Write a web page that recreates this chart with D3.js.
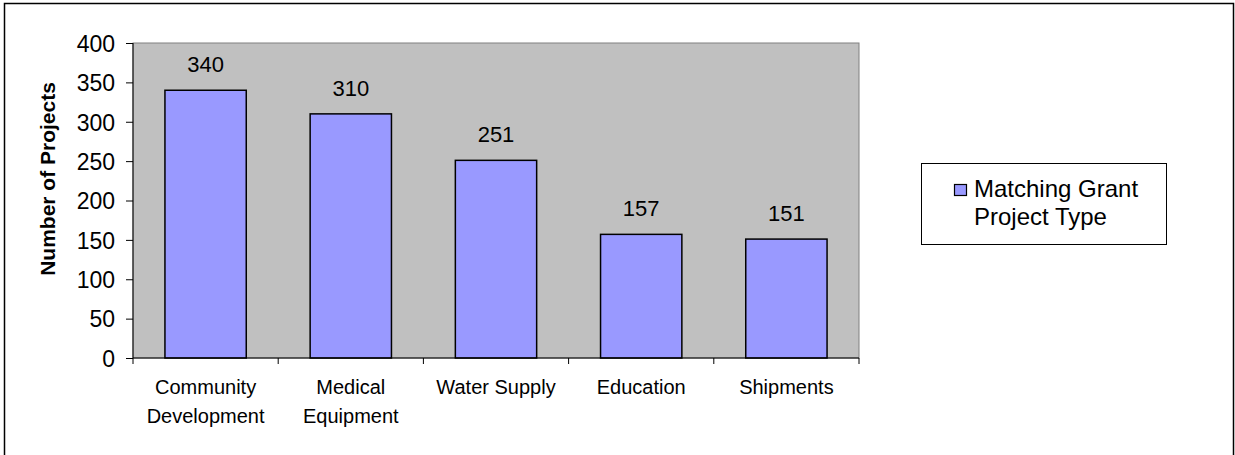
<!DOCTYPE html>
<html lang="en">
<head>
    <meta charset="UTF-8">
    <title>Matching Grant Project Type</title>
    <script src="https://d3js.org/d3.v7.min.js"></script>
    <style>
        body { margin: 0; background: #fff; }
        text { font-family: Arial, "Liberation Sans", sans-serif; fill: #000; }
    </style>
</head>
<body>
<script>
    // chart data
    var categories = [["Community", "Development"], ["Medical", "Equipment"], ["Water Supply"], ["Education"], ["Shipments"]];
    var values = [340, 310, 251, 157, 151];
    var yTicks = [0, 50, 100, 150, 200, 250, 300, 350, 400];
    var seriesName = ["Matching Grant", "Project Type"];
    var yTitle = "Number of Projects";

    var width = 1235;
    var height = 455;
    var plot = {left: 133, top: 43, right: 859, bottom: 358};

    var svg = d3.select("body").append("svg")
        .attr("width", width)
        .attr("height", height);

    // outer frame
    svg.append("rect")
        .attr("x", 4.5).attr("y", 3.5)
        .attr("width", 1229).attr("height", 455)
        .attr("fill", "none")
        .attr("stroke", "#000")
        .attr("stroke-width", 1.5);

    var x = d3.scaleBand()
        .domain(d3.range(values.length))
        .range([plot.left, plot.right])
        .paddingInner(0.44)
        .paddingOuter(0.22);

    var y = d3.scaleLinear()
        .domain([0, 400])
        .range([plot.bottom, plot.top]);

    // plot area
    svg.append("rect")
        .attr("x", plot.left).attr("y", plot.top)
        .attr("width", plot.right - plot.left)
        .attr("height", plot.bottom - plot.top)
        .attr("fill", "#c0c0c0")
        .attr("stroke", "#808080")
        .attr("stroke-width", 1);

    // bars
    svg.append("g").selectAll("rect")
        .data(values)
        .enter()
        .append("rect")
        .attr("x", function (d, i) { return x(i); })
        .attr("y", function (d) { return y(d); })
        .attr("width", x.bandwidth())
        .attr("height", function (d) { return y(0) - y(d); })
        .attr("fill", "#9999ff")
        .attr("stroke", "#000")
        .attr("stroke-width", 1.5);

    // value labels
    svg.append("g").selectAll("text")
        .data(values)
        .enter()
        .append("text")
        .attr("x", function (d, i) { return x(i) + x.bandwidth() / 2; })
        .attr("y", function (d) { return y(d) - 18; })
        .attr("text-anchor", "middle")
        .style("font-size", "22px")
        .text(function (d) { return d; });

    // y axis
    var yAxis = svg.append("g")
        .attr("transform", "translate(" + plot.left + ",0)")
        .call(d3.axisLeft(y).tickValues(yTicks).tickSize(7).tickPadding(11));
    yAxis.selectAll("text").style("font-size", "23px").attr("dy", "0.36em");
    yAxis.selectAll("line, path").attr("stroke", "#000");
    yAxis.select(".domain").attr("d", "M0," + plot.top + "V" + plot.bottom);

    // x axis, ticks at band boundaries
    var step = x.step();
    var xBase = svg.append("g");
    xBase.append("line")
        .attr("x1", plot.left).attr("x2", plot.right)
        .attr("y1", plot.bottom).attr("y2", plot.bottom)
        .attr("stroke", "#000");
    xBase.selectAll(".xtick")
        .data(d3.range(values.length + 1))
        .enter()
        .append("line")
        .attr("class", "xtick")
        .attr("x1", function (i) { return plot.left + i * step; })
        .attr("x2", function (i) { return plot.left + i * step; })
        .attr("y1", plot.bottom)
        .attr("y2", plot.bottom + 6)
        .attr("stroke", "#000");

    // category labels
    var catLabel = svg.append("g").selectAll("text")
        .data(categories)
        .enter()
        .append("text")
        .attr("text-anchor", "middle")
        .attr("x", function (d, i) { return x(i) + x.bandwidth() / 2; })
        .attr("y", 394)
        .style("font-size", "20px");
    catLabel.selectAll("tspan")
        .data(function (d) { return d; })
        .enter()
        .append("tspan")
        .attr("x", function () { return d3.select(this.parentNode).attr("x"); })
        .attr("dy", function (d, i) { return i === 0 ? 0 : 28.5; })
        .text(function (d) { return d; });

    // y title
    svg.append("text")
        .attr("transform", "translate(55,179) rotate(-90)")
        .attr("text-anchor", "middle")
        .style("font-size", "21px")
        .style("font-weight", "bold")
        .text(yTitle);

    // legend
    var legend = svg.append("g");
    legend.append("rect")
        .attr("x", 921.5).attr("y", 163.5)
        .attr("width", 245).attr("height", 81)
        .attr("fill", "#fff")
        .attr("stroke", "#000")
        .attr("stroke-width", 1);
    legend.append("rect")
        .attr("x", 954.5).attr("y", 184.5)
        .attr("width", 12).attr("height", 11)
        .attr("fill", "#9999ff")
        .attr("stroke", "#000")
        .attr("stroke-width", 1.2);
    legend.append("text")
        .attr("x", 974)
        .attr("y", 197)
        .style("font-size", "24px")
        .selectAll("tspan")
        .data(seriesName)
        .enter()
        .append("tspan")
        .attr("x", 974)
        .attr("dy", function (d, i) { return i === 0 ? 0 : 28; })
        .text(function (d) { return d; });
</script>
</body>
</html>
